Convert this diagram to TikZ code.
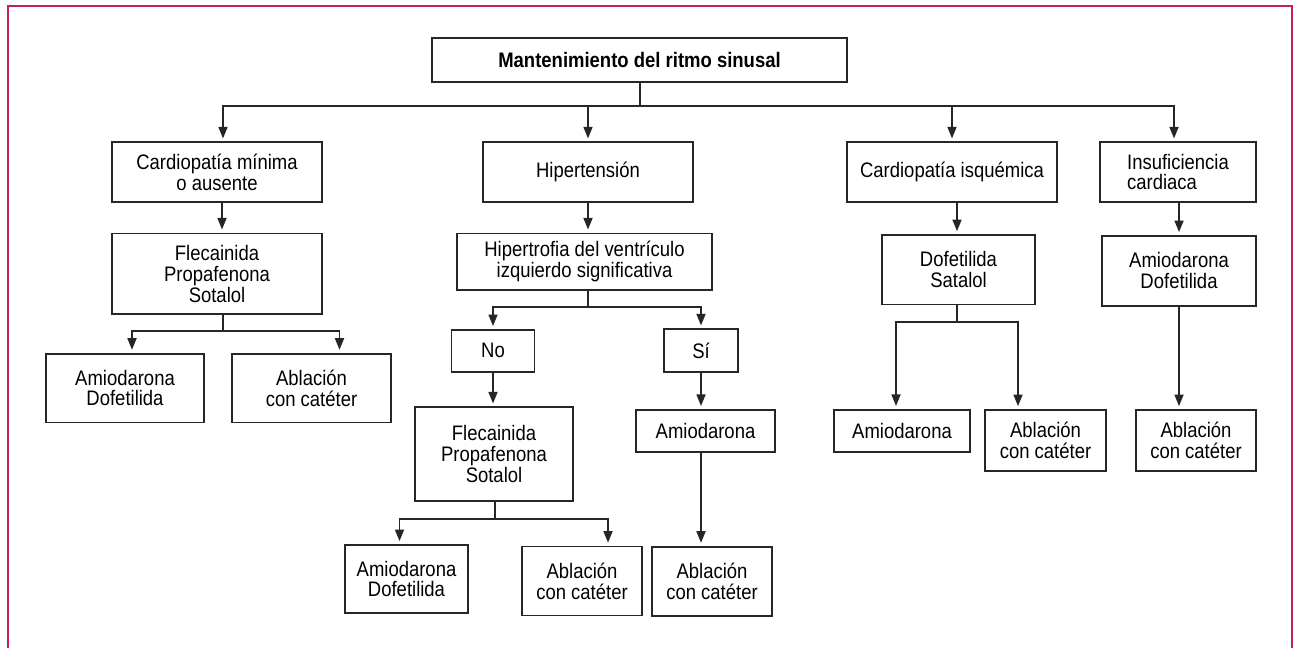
\documentclass[tikz,border=0pt]{standalone}
\usepackage{fontspec}
\setmainfont[FakeStretch=0.88]{Liberation Sans}
\usetikzlibrary{arrows.meta}
\definecolor{frameRed}{RGB}{200,30,80}

\begin{document}
\begin{tikzpicture}
        [x={(0.5pt,0)},
        y={(0,-0.5pt)},
        frame/.style={color=frameRed, line width=0.9pt},
        box/.style={draw=black!85, line width=0.85pt, inner sep=0pt, align=center,
                    font=\fontsize{10.5}{10.4}\selectfont},
        link/.style={draw=black!85, line width=0.85pt},
        arr/.style={link, -{Triangle[length=5.8pt,width=4.5pt]}, shorten >=1.5pt}]
%
%% Frame and size of the picture
%%
\useasboundingbox (0,0) rectangle (1293,648);
\draw[frame] (8,648) -- (8,6) -- (1292,6) -- (1292,648);
%%
%% Branch points of the connectors
%%
\coordinate (j0) at (640,105.7);
\coordinate (j1) at (223,331);
\coordinate (j2) at (588,307.3);
\coordinate (j3) at (495,519.3);
\coordinate (j4) at (957,322);
%%
%% Drawing the boxes
%%
\node[box, minimum width=207.5pt, minimum height=22pt, font=\fontsize{10.5}{10.4}\selectfont\bfseries]
      (main) at (639.5,60.3) {Mantenimiento del ritmo sinusal};

\node[box, minimum width=105pt, minimum height=29.7pt] (cmin) at (217,172) {Cardiopatía mínima\\o ausente};
\node[box, minimum width=105pt, minimum height=29.7pt] (hta) at (588,172) {Hipertensión};
\node[box, minimum width=105pt, minimum height=29.7pt] (cisq) at (952,172) {Cardiopatía isquémica};
\node[box, minimum width=78pt, minimum height=29.7pt, align=left] (icard) at (1178,172) {Insuficiencia\\cardiaca};

\node[box, minimum width=105pt, minimum height=40.35pt] (flec1) at (217,273.7) {Flecainida\\Propafenona\\Sotalol};
\node[box, minimum width=127.5pt, minimum height=28.35pt] (hvi) at (584.5,261.7) {Hipertrofia del ventrículo\\izquierdo significativa};
\node[box, minimum width=76.5pt, minimum height=34.65pt] (dofsat) at (958.5,269.7) {Dofetilida\\Satalol};
\node[box, minimum width=77pt, minimum height=34.85pt] (amdof1) at (1179,270.8) {Amiodarona\\Dofetilida};

\node[box, minimum width=79pt, minimum height=34.35pt] (amdof2) at (125,388) {Amiodarona\\Dofetilida};
\node[box, minimum width=79.5pt, minimum height=34.35pt] (abl1) at (311.5,388) {Ablación\\con catéter};
\node[box, minimum width=41.5pt, minimum height=20.85pt] (no) at (493,350.8) {No};
\node[box, minimum width=37pt, minimum height=21.5pt] (si) at (701,350.8) {Sí};
\node[box, minimum width=79pt, minimum height=46.7pt] (flec2) at (494,454) {Flecainida\\Propafenona\\Sotalol};
\node[box, minimum width=69.5pt, minimum height=21.15pt] (amio1) at (705.5,431) {Amiodarona};
\node[box, minimum width=68pt, minimum height=21.15pt] (amio2) at (902,431) {Amiodarona};
\node[box, minimum width=60.5pt, minimum height=30.5pt] (abl4) at (1045.5,440.5) {Ablación\\con catéter};
\node[box, minimum width=60pt, minimum height=30.5pt] (abl5) at (1196,440.5) {Ablación\\con catéter};

\node[box, minimum width=61.5pt, minimum height=34pt] (amdof3) at (406.5,579) {Amiodarona\\Dofetilida};
\node[box, minimum width=60pt, minimum height=34.5pt] (abl2) at (582,581) {Ablación\\con catéter};
\node[box, minimum width=60pt, minimum height=34.65pt] (abl3) at (712,581.3) {Ablación\\con catéter};
%%
%% Drawing the connectors
%%
\draw[link] (main.south -| j0) -- (j0);
\draw[arr] (j0) -| ([xshift=3pt]cmin.north);
\draw[arr] (j0) -| (hta.north);
\draw[arr] (j0) -| (cisq.north);
\draw[arr] (j0) -| ([xshift=-2pt]icard.north);

\draw[arr] ([xshift=2.5pt]cmin.south) -- ([xshift=2.5pt]flec1.north);
\draw[arr] (hta.south) -- (hta.south |- hvi.north);
\draw[arr] (cisq.south -| j4) -- (dofsat.north -| j4);
\draw[arr] (icard.south -| amdof1) -- (amdof1.north);

\draw[link] (flec1.south -| j1) -- (j1);
\draw[arr] (j1) -| ([xshift=3.5pt]amdof2.north);
\draw[arr] (j1) -| ([xshift=14pt]abl1.north);

\draw[link] (hvi.south -| j2) -- (j2);
\draw[arr] (j2) -| (no.north);
\draw[arr] (j2) -| (si.north);
\draw[arr] (no.south) -- (no.south |- flec2.north);
\draw[arr] (si.south) -- (si.south |- amio1.north);
\draw[arr] (amio1.south -| si) -- (abl3.north -| si);

\draw[link] (flec2.south -| j3) -- (j3);
\draw[arr] (j3) -| ([xshift=-3.5pt]amdof3.north);
\draw[arr] (j3) -| ([xshift=13pt]abl2.north);

\draw[link] (dofsat.south -| j4) -- (j4);
\draw[arr] (j4) -| ([xshift=-3pt]amio2.north);
\draw[arr] (j4) -| ([xshift=-13.75pt]abl4.north);
\draw[arr] (amdof1.south) -- (amdof1.south |- abl5.north);
%%
\end{tikzpicture}
\end{document}
